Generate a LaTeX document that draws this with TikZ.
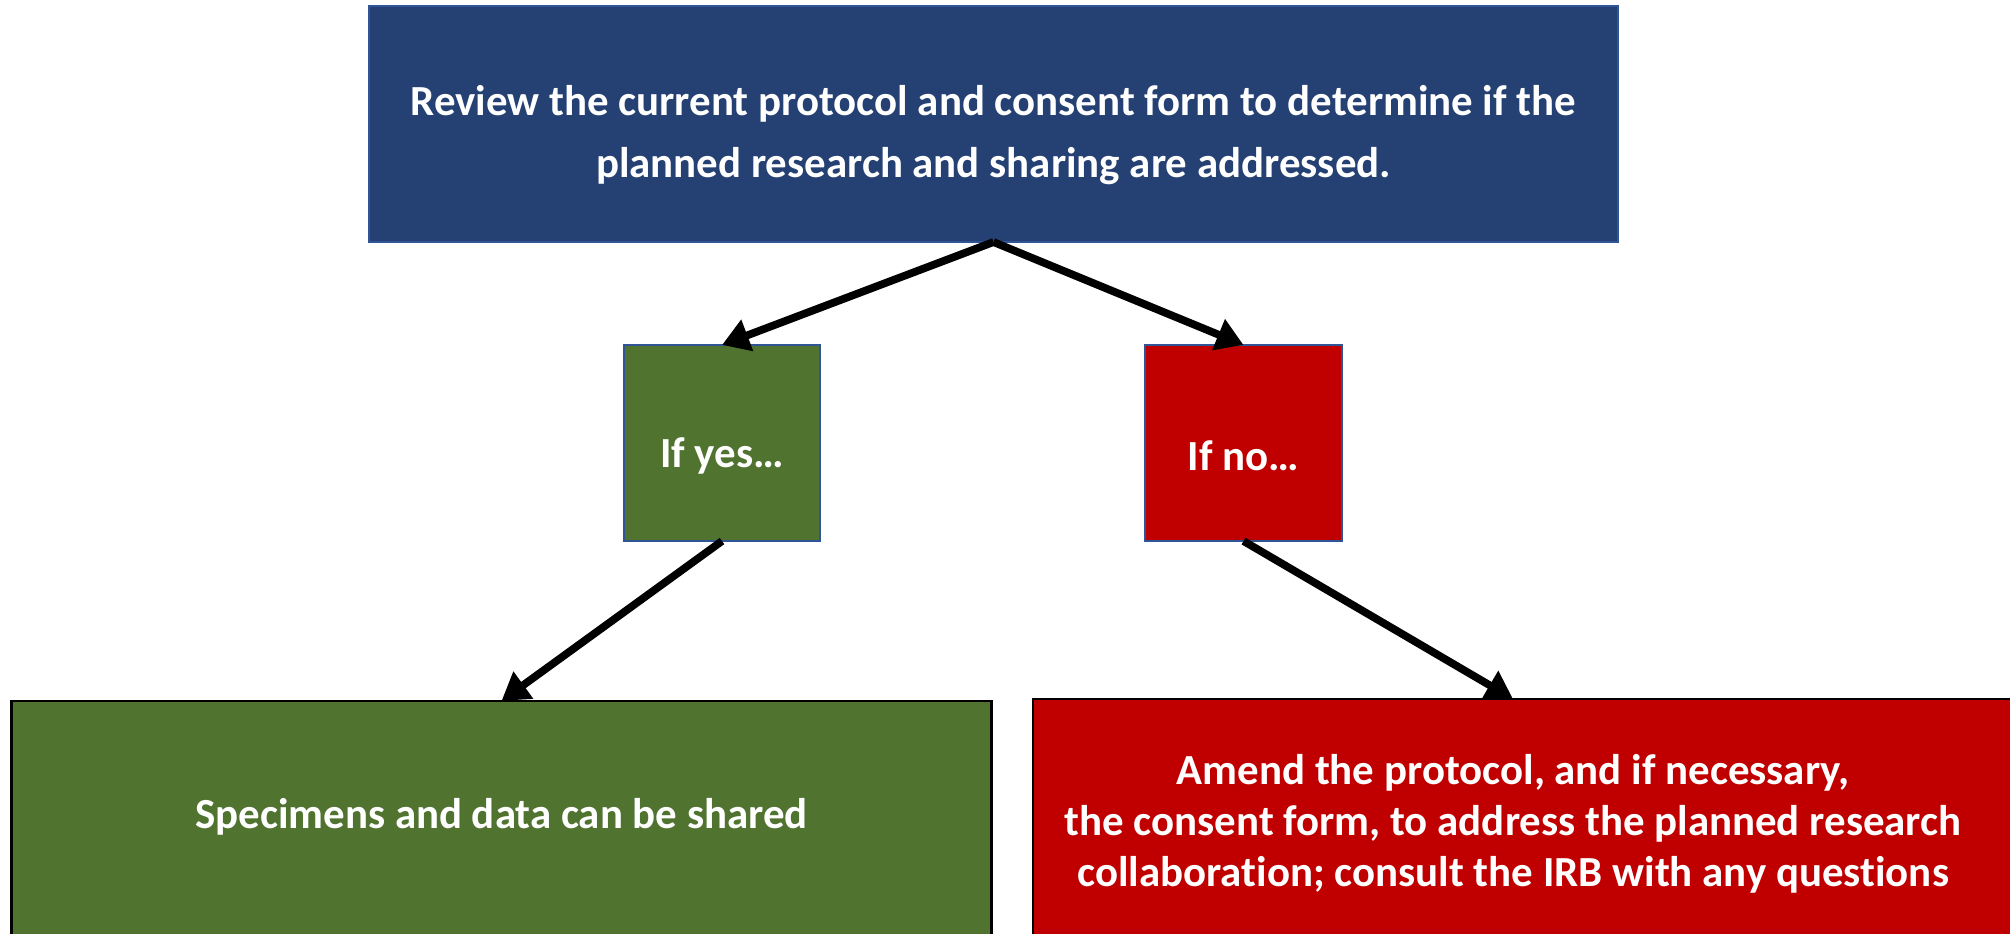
\documentclass[tikz,border=0pt]{standalone}
\usepackage{fontspec}
\setmainfont[Ligatures=NoCommon]{Carlito}
\usetikzlibrary{arrows.meta}
\definecolor{topblue}{RGB}{37,64,114}
\definecolor{topedge}{RGB}{47,85,151}
\definecolor{yesgreen}{RGB}{80,115,48}
\definecolor{nored}{RGB}{192,0,0}
\definecolor{smalledge}{RGB}{47,85,151}
\tikzset{
  box/.style={rectangle, inner sep=0pt, outer sep=0pt},
  txt/.style={text=white, font=\fontsize{12.2}{17.5}\selectfont\bfseries, align=center, inner sep=0pt},
  conn/.style={draw=black, line width=2.2pt, -{Triangle[length=0.27cm,width=0.32cm]}}
}
\begin{document}
\begin{tikzpicture}[x=0.01cm, y=-0.01cm]
\clip (0,0) rectangle (2010,934);
% boxes
\node[box, fill=topblue, draw=topedge, line width=0.6pt, minimum width=12.49cm, minimum height=2.36cm] (top) at (993.5,124) {};
\node[box, fill=yesgreen, draw=smalledge, line width=0.6pt, minimum width=1.96cm, minimum height=1.96cm] (yes) at (722,443) {};
\node[box, fill=nored, draw=smalledge, line width=0.6pt, minimum width=1.97cm, minimum height=1.96cm] (no) at (1243.5,443) {};
\node[box, fill=yesgreen, draw=black, line width=0.7pt, minimum width=9.79cm, minimum height=3.0cm] (share) at (501.5,851) {};
\node[box, fill=nored, draw=black, line width=0.7pt, minimum width=9.84cm, minimum height=3.0cm] (amend) at (1525,849) {};
% texts
\node[txt] (toptext) at (993.5,135) {Review the current protocol and consent form to determine if the\\planned research and sharing are addressed.};
\node[txt] (yestext) at (722,456) {If yes\ldots};
\node[txt] (notext) at (1243.5,456) {If no\ldots};
\node[txt] (sharetext) at (501.5,817) {Specimens and data can be shared};
\node[txt, font=\fontsize{12.2}{14.5}\selectfont\bfseries] (amendtext) at (1513,824) {Amend the protocol, and if necessary,\\the consent form, to address the planned research\\collaboration; consult the IRB with any questions};
% connectors
\draw[conn] (top.south) -- (yes.north);
\draw[conn] (top.south) -- (no.north);
\draw[conn] (yes.south) -- (share.north);
\draw[conn] (no.south) -- ([xshift=-0.12cm]amend.north);
\end{tikzpicture}
\end{document}
